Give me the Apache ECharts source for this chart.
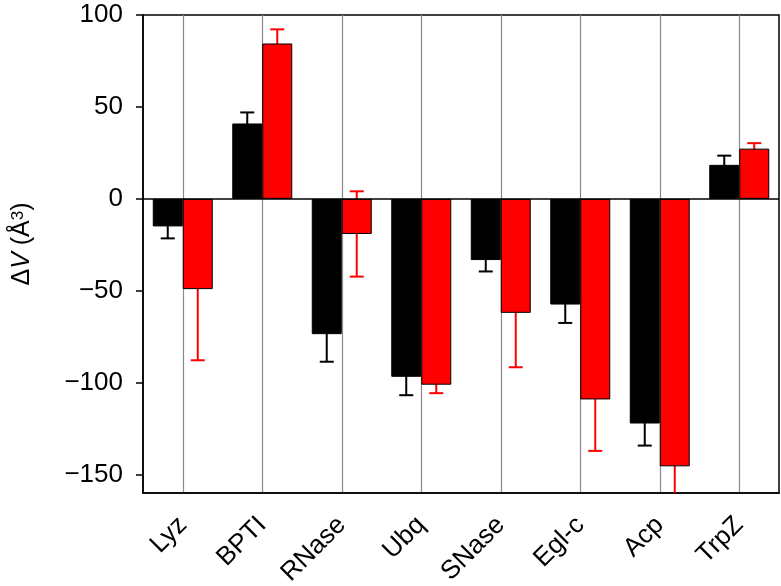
<!DOCTYPE html>
<html>
<head>
<meta charset="utf-8">
<script src="https://cdn.jsdelivr.net/npm/echarts@6/dist/echarts.min.js"></script>
<style>
html,body{margin:0;padding:0;background:#fff;}
#c{width:781px;height:586px;}
</style>
</head>
<body>
<div id="c"></div>
<script>
var categories = ['Lyz', 'BPTI', 'RNase', 'Ubq', 'SNase', 'Egl-c', 'Acp', 'TrpZ'];
var blackValues = [-15, 41, -73.6, -96.8, -33.3, -57.5, -122.2, 18.5];
var blackErrors = [6.5, 6, 15, 10, 6.2, 10, 12, 5];
var redValues = [-49.1, 84.5, -19.1, -101.1, -62, -109.1, -145.5, 27.3];
var redErrors = [38.7, 7.7, 23.2, 4.6, 29.6, 28, 20, 3];
var yTicks = [-150, -100, -50, 0, 50, 100];

var FONT = 'Liberation Sans, Arial, sans-serif';
var chart = echarts.init(document.getElementById('c'));

function errorSeries(values, errors, color, offset) {
  return {
    type: 'custom',
    z: 1,
    clip: true,
    data: values.map(function (v, i) { return [i, v, errors[i]]; }),
    renderItem: function (params, api) {
      var x = api.value(0), v = api.value(1), e = api.value(2);
      var hi = api.coord([x, v + e]);
      var lo = api.coord([x, v - e]);
      var cx = hi[0] + offset;
      var cap = 7;
      var st = { stroke: color, lineWidth: 2 };
      return {
        type: 'group',
        children: [
          { type: 'line', shape: { x1: cx, y1: hi[1], x2: cx, y2: lo[1] }, style: st },
          { type: 'line', shape: { x1: cx - cap, y1: hi[1], x2: cx + cap, y2: hi[1] }, style: st },
          { type: 'line', shape: { x1: cx - cap, y1: lo[1], x2: cx + cap, y2: lo[1] }, style: st }
        ]
      };
    }
  };
}

var option = {
  animation: false,
  backgroundColor: '#fff',
  grid: {
    left: 143, right: 2, top: 15, bottom: 93,
    containLabel: false,
    outerBoundsMode: 'none',
    show: true, borderColor: '#000', borderWidth: 1.5, backgroundColor: 'transparent'
  },
  xAxis: {
    type: 'category',
    data: categories,
    axisLine: { onZero: false, lineStyle: { color: '#000', width: 1.5 } },
    axisTick: { alignWithLabel: true, length: 7, lineStyle: { color: '#000', width: 1.5 } },
    axisLabel: { rotate: 45, fontSize: 26, color: '#000', fontFamily: FONT, margin: 28, overflow: 'none', hideOverlap: false, interval: 0 },
    splitLine: { show: false }
  },
  yAxis: {
    type: 'value',
    min: -160,
    max: 100,
    name: '{n|Δ}{v|V}{n| (Å}{s|3}{n|)}',
    nameLocation: 'middle',
    nameRotate: 90,
    nameGap: 108,
    nameTextStyle: {
      fontFamily: FONT, color: '#000', fontSize: 25,
      padding: [0, 0, 0, 20],
      rich: {
        n: { fontSize: 25, fontFamily: FONT, color: '#000' },
        v: { fontSize: 25, fontFamily: FONT, color: '#000', fontStyle: 'italic' },
        s: { fontSize: 17, fontFamily: FONT, color: '#000', verticalAlign: 'top', padding: [0, 0, 8, 0] }
      }
    },
    axisLine: { show: true, lineStyle: { color: '#000', width: 1.5 } },
    axisTick: { show: true, length: 7, customValues: yTicks, lineStyle: { color: '#000', width: 1.5 } },
    axisLabel: {
      fontSize: 26, color: '#000', fontFamily: FONT, margin: 20, customValues: yTicks,
      formatter: function (v) { return String(v).replace('-', '\u2212'); }
    },
    splitLine: { show: false }
  },
  series: [
    {
      type: 'line',
      data: [],
      z: 0,
      silent: true,
      markLine: {
        silent: true,
        symbol: 'none',
        label: { show: false },
        z: 0,
        lineStyle: { color: '#8a8a8a', type: 'solid', width: 1.2 },
        data: categories.map(function (c) { return { xAxis: c }; })
      }
    },
    errorSeries(blackValues, blackErrors, '#000', -15),
    errorSeries(redValues, redErrors, '#ff0000', 15),
    {
      type: 'bar',
      data: blackValues,
      barWidth: 30,
      barGap: '0%',
      z: 3,
      itemStyle: { color: '#000', borderColor: '#000', borderWidth: 1 }
    },
    {
      type: 'bar',
      data: redValues,
      barWidth: 30,
      barGap: '0%',
      z: 3,
      itemStyle: { color: '#ff0000', borderColor: '#000', borderWidth: 1 },
      markLine: {
        silent: true,
        symbol: 'none',
        label: { show: false },
        lineStyle: { color: '#000', type: 'solid', width: 1.5 },
        data: [{ yAxis: 0 }]
      }
    }
  ]
};
chart.setOption(option);
</script>
</body>
</html>
